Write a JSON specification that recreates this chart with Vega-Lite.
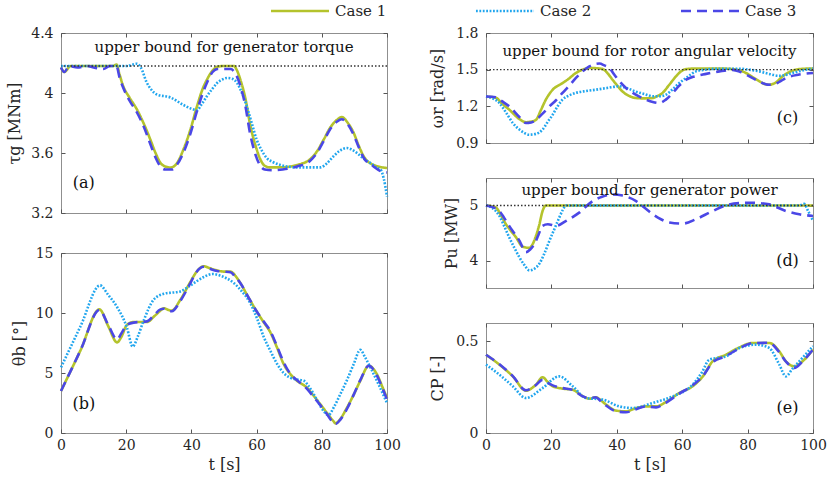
{
  "$schema": "https://vega.github.io/schema/vega-lite/v6.json",
  "background": "white",
  "padding": {"left": 6, "top": 0, "right": 0, "bottom": 5},
  "config": {
    "view": {"stroke": "#8f8f8f", "strokeWidth": 1},
    "font": "DejaVu Serif",
    "axis": {"labelFont": "DejaVu Serif", "labelFontSize": 14, "labelColor": "#262626", "titleFont": "DejaVu Serif", "titleFontSize": 16, "titleFontWeight": "normal", "titleColor": "#262626", "domain": false, "grid": false, "ticks": true, "tickSize": -4, "tickColor": "#555555", "labelPadding": 12, "titlePadding": 8, "labelOverlap": false, "labelFlush": false},
    "axisX": {"labelPadding": 9, "titlePadding": 4, "labelFlush": false},
    "legend": {"orient": "none", "legendX": 228, "legendY": -33, "direction": "horizontal", "symbolType": "M-3,0L3,0", "symbolSize": 374, "symbolStrokeWidth": 2.6, "labelFont": "DejaVu Serif", "labelFontSize": 15, "labelColor": "#262626", "labelOffset": 24, "columnPadding": 83, "title": null, "padding": 0}
  },
  "datasets": {
    "a": [
      {"c":"Case 1","t":0,"v":4.17},{"c":"Case 1","t":1,"v":4.14},{"c":"Case 1","t":3,"v":4.18},{"c":"Case 1","t":8,"v":4.18},{"c":"Case 1","t":13,"v":4.18},{"c":"Case 1","t":16,"v":4.18},{"c":"Case 1","t":17,"v":4.19},{"c":"Case 1","t":18,"v":4.12},{"c":"Case 1","t":19,"v":4.05},{"c":"Case 1","t":21,"v":3.97},{"c":"Case 1","t":23.3,"v":3.89},{"c":"Case 1","t":25.5,"v":3.79},{"c":"Case 1","t":27.4,"v":3.69},{"c":"Case 1","t":29,"v":3.6},{"c":"Case 1","t":30.5,"v":3.535},{"c":"Case 1","t":32,"v":3.51},{"c":"Case 1","t":33.6,"v":3.503},{"c":"Case 1","t":35.5,"v":3.53},{"c":"Case 1","t":37.5,"v":3.62},{"c":"Case 1","t":39.7,"v":3.756},{"c":"Case 1","t":41.7,"v":3.91},{"c":"Case 1","t":43.5,"v":4.03},{"c":"Case 1","t":44.8,"v":4.09},{"c":"Case 1","t":46.5,"v":4.15},{"c":"Case 1","t":48,"v":4.175},{"c":"Case 1","t":50,"v":4.18},{"c":"Case 1","t":53,"v":4.18},{"c":"Case 1","t":54,"v":4.15},{"c":"Case 1","t":55,"v":4.09},{"c":"Case 1","t":56.5,"v":3.97},{"c":"Case 1","t":58.1,"v":3.78},{"c":"Case 1","t":59.8,"v":3.64},{"c":"Case 1","t":61.2,"v":3.555},{"c":"Case 1","t":62.5,"v":3.515},{"c":"Case 1","t":64.2,"v":3.504},{"c":"Case 1","t":68,"v":3.505},{"c":"Case 1","t":72.4,"v":3.52},{"c":"Case 1","t":76.5,"v":3.56},{"c":"Case 1","t":78.5,"v":3.61},{"c":"Case 1","t":80.6,"v":3.69},{"c":"Case 1","t":82.6,"v":3.77},{"c":"Case 1","t":84.7,"v":3.822},{"c":"Case 1","t":86.1,"v":3.84},{"c":"Case 1","t":88,"v":3.8},{"c":"Case 1","t":89.8,"v":3.733},{"c":"Case 1","t":91.3,"v":3.65},{"c":"Case 1","t":92.8,"v":3.58},{"c":"Case 1","t":95.9,"v":3.52},{"c":"Case 1","t":100,"v":3.5},
      {"c":"Case 2","t":0,"v":4.18},{"c":"Case 2","t":5,"v":4.18},{"c":"Case 2","t":10,"v":4.18},{"c":"Case 2","t":15,"v":4.18},{"c":"Case 2","t":20,"v":4.18},{"c":"Case 2","t":23.3,"v":4.195},{"c":"Case 2","t":24.5,"v":4.17},{"c":"Case 2","t":26.3,"v":4.07},{"c":"Case 2","t":27.8,"v":4.02},{"c":"Case 2","t":29.4,"v":3.99},{"c":"Case 2","t":33.6,"v":3.97},{"c":"Case 2","t":37.6,"v":3.92},{"c":"Case 2","t":40,"v":3.895},{"c":"Case 2","t":41.7,"v":3.885},{"c":"Case 2","t":43,"v":3.92},{"c":"Case 2","t":44.8,"v":3.98},{"c":"Case 2","t":46.5,"v":4.03},{"c":"Case 2","t":47.9,"v":4.067},{"c":"Case 2","t":49.5,"v":4.09},{"c":"Case 2","t":51,"v":4.1},{"c":"Case 2","t":52.5,"v":4.095},{"c":"Case 2","t":54,"v":4.067},{"c":"Case 2","t":55.5,"v":4.0},{"c":"Case 2","t":57,"v":3.91},{"c":"Case 2","t":58.5,"v":3.8},{"c":"Case 2","t":60,"v":3.69},{"c":"Case 2","t":61.5,"v":3.62},{"c":"Case 2","t":63.1,"v":3.567},{"c":"Case 2","t":65,"v":3.54},{"c":"Case 2","t":67.3,"v":3.52},{"c":"Case 2","t":72.4,"v":3.504},{"c":"Case 2","t":79.6,"v":3.504},{"c":"Case 2","t":81.5,"v":3.53},{"c":"Case 2","t":83.6,"v":3.578},{"c":"Case 2","t":85.5,"v":3.615},{"c":"Case 2","t":87.7,"v":3.633},{"c":"Case 2","t":89,"v":3.625},{"c":"Case 2","t":90.8,"v":3.6},{"c":"Case 2","t":93,"v":3.56},{"c":"Case 2","t":94.9,"v":3.533},{"c":"Case 2","t":97,"v":3.5},{"c":"Case 2","t":98,"v":3.49},{"c":"Case 2","t":99,"v":3.43},{"c":"Case 2","t":100,"v":3.31},
      {"c":"Case 3","t":0,"v":4.17},{"c":"Case 3","t":1,"v":4.14},{"c":"Case 3","t":2.5,"v":4.18},{"c":"Case 3","t":5,"v":4.17},{"c":"Case 3","t":8,"v":4.18},{"c":"Case 3","t":10,"v":4.17},{"c":"Case 3","t":13,"v":4.16},{"c":"Case 3","t":15,"v":4.18},{"c":"Case 3","t":17,"v":4.18},{"c":"Case 3","t":18,"v":4.1},{"c":"Case 3","t":19,"v":4.04},{"c":"Case 3","t":21,"v":3.95},{"c":"Case 3","t":23.3,"v":3.87},{"c":"Case 3","t":25.5,"v":3.77},{"c":"Case 3","t":27.4,"v":3.66},{"c":"Case 3","t":29,"v":3.57},{"c":"Case 3","t":30.5,"v":3.51},{"c":"Case 3","t":32,"v":3.49},{"c":"Case 3","t":34,"v":3.49},{"c":"Case 3","t":35.5,"v":3.52},{"c":"Case 3","t":37.5,"v":3.6},{"c":"Case 3","t":39.7,"v":3.73},{"c":"Case 3","t":41.7,"v":3.88},{"c":"Case 3","t":43.5,"v":4.0},{"c":"Case 3","t":44.8,"v":4.07},{"c":"Case 3","t":46.5,"v":4.14},{"c":"Case 3","t":48,"v":4.16},{"c":"Case 3","t":50,"v":4.16},{"c":"Case 3","t":52,"v":4.16},{"c":"Case 3","t":53.5,"v":4.13},{"c":"Case 3","t":55,"v":4.05},{"c":"Case 3","t":56.5,"v":3.92},{"c":"Case 3","t":58,"v":3.73},{"c":"Case 3","t":59.5,"v":3.6},{"c":"Case 3","t":61,"v":3.52},{"c":"Case 3","t":62.5,"v":3.49},{"c":"Case 3","t":65,"v":3.485},{"c":"Case 3","t":68,"v":3.49},{"c":"Case 3","t":72.4,"v":3.51},{"c":"Case 3","t":76.5,"v":3.55},{"c":"Case 3","t":78.5,"v":3.6},{"c":"Case 3","t":80.6,"v":3.68},{"c":"Case 3","t":82.6,"v":3.76},{"c":"Case 3","t":84.7,"v":3.81},{"c":"Case 3","t":86.1,"v":3.825},{"c":"Case 3","t":88,"v":3.79},{"c":"Case 3","t":89.8,"v":3.72},{"c":"Case 3","t":91.3,"v":3.64},{"c":"Case 3","t":92.8,"v":3.57},{"c":"Case 3","t":95.9,"v":3.51},{"c":"Case 3","t":98,"v":3.48},{"c":"Case 3","t":100,"v":3.47}
    ],
    "b": [
      {"c":"Case 1","t":0,"v":3.5},{"c":"Case 1","t":6,"v":6.9},{"c":"Case 1","t":11.8,"v":10.3},{"c":"Case 1","t":14.5,"v":8.9},{"c":"Case 1","t":17.2,"v":7.55},{"c":"Case 1","t":18.5,"v":8.0},{"c":"Case 1","t":20.2,"v":9.0},{"c":"Case 1","t":22.3,"v":9.25},{"c":"Case 1","t":26.4,"v":9.25},{"c":"Case 1","t":28.5,"v":9.7},{"c":"Case 1","t":30.5,"v":10.2},{"c":"Case 1","t":31.5,"v":10.4},{"c":"Case 1","t":33,"v":10.25},{"c":"Case 1","t":34,"v":10.2},{"c":"Case 1","t":36.6,"v":11.1},{"c":"Case 1","t":39.7,"v":12.6},{"c":"Case 1","t":41.5,"v":13.4},{"c":"Case 1","t":43.8,"v":13.9},{"c":"Case 1","t":45.5,"v":13.75},{"c":"Case 1","t":47.9,"v":13.55},{"c":"Case 1","t":50,"v":13.45},{"c":"Case 1","t":52,"v":13.45},{"c":"Case 1","t":53.5,"v":13.1},{"c":"Case 1","t":55,"v":12.5},{"c":"Case 1","t":57.5,"v":11.3},{"c":"Case 1","t":60.1,"v":10.1},{"c":"Case 1","t":62,"v":9.3},{"c":"Case 1","t":64.2,"v":8.4},{"c":"Case 1","t":66.3,"v":7.1},{"c":"Case 1","t":68.3,"v":5.75},{"c":"Case 1","t":70.4,"v":4.9},{"c":"Case 1","t":72.4,"v":4.35},{"c":"Case 1","t":75.4,"v":3.78},{"c":"Case 1","t":77.5,"v":3.1},{"c":"Case 1","t":79.6,"v":2.38},{"c":"Case 1","t":81.5,"v":1.7},{"c":"Case 1","t":83.6,"v":0.98},{"c":"Case 1","t":84.2,"v":0.8},{"c":"Case 1","t":85.5,"v":1.1},{"c":"Case 1","t":87.7,"v":2.1},{"c":"Case 1","t":89.8,"v":3.2},{"c":"Case 1","t":91.8,"v":4.35},{"c":"Case 1","t":94.4,"v":5.6},{"c":"Case 1","t":96.9,"v":4.9},{"c":"Case 1","t":98.5,"v":3.9},{"c":"Case 1","t":100,"v":2.9},
      {"c":"Case 2","t":0,"v":5.47},{"c":"Case 2","t":6,"v":8.9},{"c":"Case 2","t":12,"v":12.3},{"c":"Case 2","t":14.5,"v":11.5},{"c":"Case 2","t":17.2,"v":10.5},{"c":"Case 2","t":20.2,"v":8.8},{"c":"Case 2","t":22,"v":7.2},{"c":"Case 2","t":23.5,"v":8.0},{"c":"Case 2","t":25.4,"v":9.4},{"c":"Case 2","t":28.4,"v":11.1},{"c":"Case 2","t":31.5,"v":11.6},{"c":"Case 2","t":36.6,"v":11.8},{"c":"Case 2","t":39.7,"v":12.3},{"c":"Case 2","t":43.8,"v":13.0},{"c":"Case 2","t":46.5,"v":13.25},{"c":"Case 2","t":49,"v":13.1},{"c":"Case 2","t":53,"v":12.5},{"c":"Case 2","t":55.5,"v":11.8},{"c":"Case 2","t":58.1,"v":10.8},{"c":"Case 2","t":60.2,"v":9.5},{"c":"Case 2","t":62.2,"v":8.0},{"c":"Case 2","t":64.3,"v":6.8},{"c":"Case 2","t":66.3,"v":5.75},{"c":"Case 2","t":68.3,"v":5.0},{"c":"Case 2","t":70.4,"v":4.6},{"c":"Case 2","t":72.4,"v":4.45},{"c":"Case 2","t":74.5,"v":4.35},{"c":"Case 2","t":76,"v":3.9},{"c":"Case 2","t":77.5,"v":3.25},{"c":"Case 2","t":79,"v":2.5},{"c":"Case 2","t":80.6,"v":1.82},{"c":"Case 2","t":82,"v":1.49},{"c":"Case 2","t":83.8,"v":2.2},{"c":"Case 2","t":85.7,"v":3.25},{"c":"Case 2","t":87.7,"v":4.4},{"c":"Case 2","t":89.8,"v":5.75},{"c":"Case 2","t":91.8,"v":6.93},{"c":"Case 2","t":93.3,"v":6.3},{"c":"Case 2","t":94.9,"v":5.47},{"c":"Case 2","t":97.5,"v":4.0},{"c":"Case 2","t":100,"v":2.5},
      {"c":"Case 3","t":0,"v":3.5},{"c":"Case 3","t":6,"v":6.9},{"c":"Case 3","t":11.8,"v":10.25},{"c":"Case 3","t":14.5,"v":9.0},{"c":"Case 3","t":17.2,"v":7.8},{"c":"Case 3","t":18.5,"v":8.3},{"c":"Case 3","t":20.2,"v":9.0},{"c":"Case 3","t":22.3,"v":9.2},{"c":"Case 3","t":26.4,"v":9.3},{"c":"Case 3","t":28.5,"v":9.8},{"c":"Case 3","t":30.5,"v":10.3},{"c":"Case 3","t":31.5,"v":10.35},{"c":"Case 3","t":33,"v":10.15},{"c":"Case 3","t":34,"v":10.15},{"c":"Case 3","t":36.6,"v":11.0},{"c":"Case 3","t":39.7,"v":12.5},{"c":"Case 3","t":41.5,"v":13.4},{"c":"Case 3","t":43.8,"v":13.85},{"c":"Case 3","t":45.5,"v":13.7},{"c":"Case 3","t":47.9,"v":13.5},{"c":"Case 3","t":50,"v":13.45},{"c":"Case 3","t":52,"v":13.4},{"c":"Case 3","t":53.5,"v":13.0},{"c":"Case 3","t":55,"v":12.5},{"c":"Case 3","t":57.5,"v":11.3},{"c":"Case 3","t":60.1,"v":10.1},{"c":"Case 3","t":62,"v":9.35},{"c":"Case 3","t":64.2,"v":8.5},{"c":"Case 3","t":66.3,"v":7.2},{"c":"Case 3","t":68.3,"v":5.9},{"c":"Case 3","t":70.4,"v":4.9},{"c":"Case 3","t":72.4,"v":4.4},{"c":"Case 3","t":75.4,"v":3.7},{"c":"Case 3","t":77.5,"v":3.0},{"c":"Case 3","t":79.6,"v":2.3},{"c":"Case 3","t":81.5,"v":1.6},{"c":"Case 3","t":83.6,"v":0.85},{"c":"Case 3","t":84.2,"v":0.75},{"c":"Case 3","t":85.5,"v":1.05},{"c":"Case 3","t":87.7,"v":2.0},{"c":"Case 3","t":89.8,"v":3.2},{"c":"Case 3","t":91.8,"v":4.4},{"c":"Case 3","t":94.4,"v":5.6},{"c":"Case 3","t":96.9,"v":4.8},{"c":"Case 3","t":98.5,"v":3.8},{"c":"Case 3","t":100,"v":2.8}
    ],
    "c": [
      {"c":"Case 1","t":0,"v":1.28},{"c":"Case 1","t":3,"v":1.27},{"c":"Case 1","t":5,"v":1.22},{"c":"Case 1","t":7.1,"v":1.173},{"c":"Case 1","t":10.2,"v":1.096},{"c":"Case 1","t":12.2,"v":1.07},{"c":"Case 1","t":13.8,"v":1.075},{"c":"Case 1","t":15.3,"v":1.09},{"c":"Case 1","t":16.8,"v":1.17},{"c":"Case 1","t":18.3,"v":1.255},{"c":"Case 1","t":20.4,"v":1.336},{"c":"Case 1","t":23.4,"v":1.39},{"c":"Case 1","t":25.5,"v":1.43},{"c":"Case 1","t":27.5,"v":1.473},{"c":"Case 1","t":29.5,"v":1.5},{"c":"Case 1","t":31.6,"v":1.514},{"c":"Case 1","t":33.7,"v":1.512},{"c":"Case 1","t":35.7,"v":1.505},{"c":"Case 1","t":37.2,"v":1.47},{"c":"Case 1","t":38.7,"v":1.418},{"c":"Case 1","t":40.3,"v":1.365},{"c":"Case 1","t":41.8,"v":1.32},{"c":"Case 1","t":43.8,"v":1.285},{"c":"Case 1","t":45.9,"v":1.268},{"c":"Case 1","t":48.5,"v":1.265},{"c":"Case 1","t":51,"v":1.268},{"c":"Case 1","t":52.5,"v":1.285},{"c":"Case 1","t":54,"v":1.31},{"c":"Case 1","t":56,"v":1.375},{"c":"Case 1","t":58.1,"v":1.445},{"c":"Case 1","t":59.6,"v":1.485},{"c":"Case 1","t":61.2,"v":1.505},{"c":"Case 1","t":65,"v":1.51},{"c":"Case 1","t":70,"v":1.51},{"c":"Case 1","t":75.4,"v":1.505},{"c":"Case 1","t":77.5,"v":1.495},{"c":"Case 1","t":79.5,"v":1.473},{"c":"Case 1","t":81.5,"v":1.44},{"c":"Case 1","t":83.6,"v":1.405},{"c":"Case 1","t":85,"v":1.385},{"c":"Case 1","t":86.6,"v":1.377},{"c":"Case 1","t":88.6,"v":1.395},{"c":"Case 1","t":90.7,"v":1.445},{"c":"Case 1","t":92.7,"v":1.48},{"c":"Case 1","t":94.8,"v":1.5},{"c":"Case 1","t":97.5,"v":1.508},{"c":"Case 1","t":100,"v":1.51},
      {"c":"Case 2","t":0,"v":1.28},{"c":"Case 2","t":2,"v":1.265},{"c":"Case 2","t":4.1,"v":1.227},{"c":"Case 2","t":6.1,"v":1.15},{"c":"Case 2","t":8.2,"v":1.064},{"c":"Case 2","t":10.7,"v":1.0},{"c":"Case 2","t":13.3,"v":0.968},{"c":"Case 2","t":15.3,"v":0.975},{"c":"Case 2","t":17.3,"v":1.01},{"c":"Case 2","t":18.8,"v":1.07},{"c":"Case 2","t":20.4,"v":1.132},{"c":"Case 2","t":21.9,"v":1.2},{"c":"Case 2","t":23.4,"v":1.255},{"c":"Case 2","t":25.5,"v":1.29},{"c":"Case 2","t":27.5,"v":1.31},{"c":"Case 2","t":30.5,"v":1.325},{"c":"Case 2","t":33.6,"v":1.336},{"c":"Case 2","t":37,"v":1.35},{"c":"Case 2","t":40.8,"v":1.364},{"c":"Case 2","t":43.5,"v":1.345},{"c":"Case 2","t":45.9,"v":1.32},{"c":"Case 2","t":48.5,"v":1.3},{"c":"Case 2","t":51,"v":1.282},{"c":"Case 2","t":53,"v":1.282},{"c":"Case 2","t":55,"v":1.295},{"c":"Case 2","t":57.1,"v":1.34},{"c":"Case 2","t":59.1,"v":1.39},{"c":"Case 2","t":61.6,"v":1.44},{"c":"Case 2","t":64.2,"v":1.486},{"c":"Case 2","t":67,"v":1.5},{"c":"Case 2","t":71.4,"v":1.508},{"c":"Case 2","t":77.5,"v":1.508},{"c":"Case 2","t":80.5,"v":1.5},{"c":"Case 2","t":83.6,"v":1.486},{"c":"Case 2","t":86.6,"v":1.465},{"c":"Case 2","t":89.7,"v":1.45},{"c":"Case 2","t":91.7,"v":1.457},{"c":"Case 2","t":93.8,"v":1.473},{"c":"Case 2","t":97,"v":1.495},{"c":"Case 2","t":100,"v":1.51},
      {"c":"Case 3","t":0,"v":1.28},{"c":"Case 3","t":3,"v":1.275},{"c":"Case 3","t":5,"v":1.24},{"c":"Case 3","t":7.1,"v":1.2},{"c":"Case 3","t":10.2,"v":1.113},{"c":"Case 3","t":12.2,"v":1.064},{"c":"Case 3","t":13.8,"v":1.068},{"c":"Case 3","t":15.3,"v":1.09},{"c":"Case 3","t":17.3,"v":1.14},{"c":"Case 3","t":19.4,"v":1.2},{"c":"Case 3","t":21.4,"v":1.25},{"c":"Case 3","t":23.4,"v":1.31},{"c":"Case 3","t":25.5,"v":1.37},{"c":"Case 3","t":27.5,"v":1.432},{"c":"Case 3","t":29.5,"v":1.485},{"c":"Case 3","t":31.6,"v":1.527},{"c":"Case 3","t":33.2,"v":1.545},{"c":"Case 3","t":34.7,"v":1.55},{"c":"Case 3","t":36.2,"v":1.535},{"c":"Case 3","t":37.7,"v":1.514},{"c":"Case 3","t":39.2,"v":1.46},{"c":"Case 3","t":40.8,"v":1.405},{"c":"Case 3","t":42.8,"v":1.35},{"c":"Case 3","t":44.9,"v":1.31},{"c":"Case 3","t":46.9,"v":1.28},{"c":"Case 3","t":48.9,"v":1.255},{"c":"Case 3","t":51,"v":1.235},{"c":"Case 3","t":53,"v":1.227},{"c":"Case 3","t":55,"v":1.255},{"c":"Case 3","t":57.1,"v":1.31},{"c":"Case 3","t":59.1,"v":1.37},{"c":"Case 3","t":61.2,"v":1.418},{"c":"Case 3","t":63.7,"v":1.445},{"c":"Case 3","t":66.3,"v":1.46},{"c":"Case 3","t":71.4,"v":1.486},{"c":"Case 3","t":75.4,"v":1.498},{"c":"Case 3","t":77.5,"v":1.485},{"c":"Case 3","t":79.5,"v":1.46},{"c":"Case 3","t":82,"v":1.425},{"c":"Case 3","t":84.6,"v":1.39},{"c":"Case 3","t":86,"v":1.378},{"c":"Case 3","t":87.7,"v":1.377},{"c":"Case 3","t":89.7,"v":1.4},{"c":"Case 3","t":91.7,"v":1.432},{"c":"Case 3","t":95.8,"v":1.46},{"c":"Case 3","t":100,"v":1.473}
    ],
    "d": [
      {"c":"Case 1","t":0,"v":5.0},{"c":"Case 1","t":1.5,"v":4.99},{"c":"Case 1","t":3.1,"v":4.96},{"c":"Case 1","t":4.6,"v":4.82},{"c":"Case 1","t":6.1,"v":4.66},{"c":"Case 1","t":7.6,"v":4.54},{"c":"Case 1","t":9.2,"v":4.42},{"c":"Case 1","t":11.2,"v":4.25},{"c":"Case 1","t":13.3,"v":4.23},{"c":"Case 1","t":14.3,"v":4.3},{"c":"Case 1","t":15.3,"v":4.45},{"c":"Case 1","t":16.3,"v":4.65},{"c":"Case 1","t":17.3,"v":4.9},{"c":"Case 1","t":18.3,"v":5.0},{"c":"Case 1","t":30,"v":5.0},{"c":"Case 1","t":50,"v":5.0},{"c":"Case 1","t":70,"v":5.0},{"c":"Case 1","t":90,"v":5.0},{"c":"Case 1","t":100,"v":5.0},
      {"c":"Case 2","t":0,"v":5.0},{"c":"Case 2","t":2,"v":4.95},{"c":"Case 2","t":4.1,"v":4.81},{"c":"Case 2","t":5.6,"v":4.62},{"c":"Case 2","t":7.1,"v":4.42},{"c":"Case 2","t":8.6,"v":4.24},{"c":"Case 2","t":10.2,"v":4.06},{"c":"Case 2","t":11.7,"v":3.92},{"c":"Case 2","t":13.3,"v":3.82},{"c":"Case 2","t":14.8,"v":3.85},{"c":"Case 2","t":16.3,"v":3.94},{"c":"Case 2","t":17.8,"v":4.12},{"c":"Case 2","t":19.4,"v":4.36},{"c":"Case 2","t":20.9,"v":4.57},{"c":"Case 2","t":22.4,"v":4.78},{"c":"Case 2","t":23.5,"v":4.92},{"c":"Case 2","t":24.5,"v":5.0},{"c":"Case 2","t":40,"v":5.0},{"c":"Case 2","t":60,"v":5.0},{"c":"Case 2","t":80,"v":5.0},{"c":"Case 2","t":95.8,"v":5.0},{"c":"Case 2","t":97.3,"v":5.03},{"c":"Case 2","t":98.5,"v":4.9},{"c":"Case 2","t":100,"v":4.72},
      {"c":"Case 3","t":0,"v":5.0},{"c":"Case 3","t":2,"v":4.97},{"c":"Case 3","t":4.1,"v":4.9},{"c":"Case 3","t":5.6,"v":4.77},{"c":"Case 3","t":7.1,"v":4.63},{"c":"Case 3","t":8.6,"v":4.5},{"c":"Case 3","t":10.2,"v":4.36},{"c":"Case 3","t":11.2,"v":4.24},{"c":"Case 3","t":12.2,"v":4.15},{"c":"Case 3","t":13.5,"v":4.2},{"c":"Case 3","t":14.8,"v":4.3},{"c":"Case 3","t":16,"v":4.46},{"c":"Case 3","t":17.3,"v":4.63},{"c":"Case 3","t":18.9,"v":4.66},{"c":"Case 3","t":21.4,"v":4.63},{"c":"Case 3","t":24.5,"v":4.72},{"c":"Case 3","t":28.5,"v":4.87},{"c":"Case 3","t":32.6,"v":5.08},{"c":"Case 3","t":35.5,"v":5.16},{"c":"Case 3","t":38.7,"v":5.2},{"c":"Case 3","t":41.8,"v":5.18},{"c":"Case 3","t":45.9,"v":5.08},{"c":"Case 3","t":48.5,"v":4.96},{"c":"Case 3","t":51,"v":4.84},{"c":"Case 3","t":53.5,"v":4.75},{"c":"Case 3","t":56.1,"v":4.69},{"c":"Case 3","t":60.1,"v":4.67},{"c":"Case 3","t":64.2,"v":4.75},{"c":"Case 3","t":69.3,"v":4.9},{"c":"Case 3","t":74.4,"v":5.02},{"c":"Case 3","t":78,"v":5.045},{"c":"Case 3","t":81.5,"v":5.05},{"c":"Case 3","t":86.6,"v":5.02},{"c":"Case 3","t":91.7,"v":4.9},{"c":"Case 3","t":95.8,"v":4.84},{"c":"Case 3","t":100,"v":4.81}
    ],
    "e": [
      {"c":"Case 1","t":0,"v":0.427},{"c":"Case 1","t":4.1,"v":0.373},{"c":"Case 1","t":8.2,"v":0.309},{"c":"Case 1","t":12.2,"v":0.231},{"c":"Case 1","t":15.3,"v":0.264},{"c":"Case 1","t":17.3,"v":0.304},{"c":"Case 1","t":18.8,"v":0.28},{"c":"Case 1","t":20.4,"v":0.255},{"c":"Case 1","t":23.4,"v":0.242},{"c":"Case 1","t":26.5,"v":0.236},{"c":"Case 1","t":29.6,"v":0.2},{"c":"Case 1","t":31.6,"v":0.187},{"c":"Case 1","t":33.6,"v":0.195},{"c":"Case 1","t":35,"v":0.18},{"c":"Case 1","t":36.7,"v":0.155},{"c":"Case 1","t":39.8,"v":0.122},{"c":"Case 1","t":42.8,"v":0.118},{"c":"Case 1","t":45.9,"v":0.136},{"c":"Case 1","t":48.9,"v":0.145},{"c":"Case 1","t":52,"v":0.145},{"c":"Case 1","t":55,"v":0.169},{"c":"Case 1","t":59.1,"v":0.218},{"c":"Case 1","t":63.2,"v":0.255},{"c":"Case 1","t":66.3,"v":0.309},{"c":"Case 1","t":69.3,"v":0.391},{"c":"Case 1","t":73.4,"v":0.427},{"c":"Case 1","t":77.5,"v":0.467},{"c":"Case 1","t":81.5,"v":0.491},{"c":"Case 1","t":86.6,"v":0.491},{"c":"Case 1","t":89.7,"v":0.445},{"c":"Case 1","t":91.7,"v":0.391},{"c":"Case 1","t":94.3,"v":0.364},{"c":"Case 1","t":96.8,"v":0.391},{"c":"Case 1","t":100,"v":0.455},
      {"c":"Case 2","t":0,"v":0.373},{"c":"Case 2","t":4.1,"v":0.318},{"c":"Case 2","t":8.2,"v":0.255},{"c":"Case 2","t":12.2,"v":0.191},{"c":"Case 2","t":17.3,"v":0.245},{"c":"Case 2","t":22.4,"v":0.309},{"c":"Case 2","t":26.5,"v":0.255},{"c":"Case 2","t":30.6,"v":0.191},{"c":"Case 2","t":35.7,"v":0.182},{"c":"Case 2","t":40.8,"v":0.145},{"c":"Case 2","t":44.9,"v":0.136},{"c":"Case 2","t":51,"v":0.164},{"c":"Case 2","t":57.1,"v":0.2},{"c":"Case 2","t":63.2,"v":0.264},{"c":"Case 2","t":66,"v":0.33},{"c":"Case 2","t":68.3,"v":0.4},{"c":"Case 2","t":73.4,"v":0.418},{"c":"Case 2","t":77.5,"v":0.464},{"c":"Case 2","t":82.6,"v":0.482},{"c":"Case 2","t":86.6,"v":0.464},{"c":"Case 2","t":89.7,"v":0.373},{"c":"Case 2","t":91.7,"v":0.309},{"c":"Case 2","t":93.7,"v":0.35},{"c":"Case 2","t":95.8,"v":0.391},{"c":"Case 2","t":100,"v":0.473},
      {"c":"Case 3","t":0,"v":0.427},{"c":"Case 3","t":4.1,"v":0.375},{"c":"Case 3","t":8.2,"v":0.31},{"c":"Case 3","t":12.2,"v":0.233},{"c":"Case 3","t":15.3,"v":0.262},{"c":"Case 3","t":17.3,"v":0.29},{"c":"Case 3","t":18.8,"v":0.275},{"c":"Case 3","t":20.4,"v":0.26},{"c":"Case 3","t":23.4,"v":0.245},{"c":"Case 3","t":26.5,"v":0.235},{"c":"Case 3","t":29.6,"v":0.2},{"c":"Case 3","t":31.6,"v":0.19},{"c":"Case 3","t":33.6,"v":0.195},{"c":"Case 3","t":35,"v":0.175},{"c":"Case 3","t":36.7,"v":0.15},{"c":"Case 3","t":39.8,"v":0.118},{"c":"Case 3","t":42.8,"v":0.113},{"c":"Case 3","t":45.9,"v":0.13},{"c":"Case 3","t":48.9,"v":0.145},{"c":"Case 3","t":52,"v":0.14},{"c":"Case 3","t":55,"v":0.165},{"c":"Case 3","t":59.1,"v":0.215},{"c":"Case 3","t":63.2,"v":0.26},{"c":"Case 3","t":66.3,"v":0.31},{"c":"Case 3","t":69.3,"v":0.385},{"c":"Case 3","t":73.4,"v":0.42},{"c":"Case 3","t":77.5,"v":0.462},{"c":"Case 3","t":81.5,"v":0.49},{"c":"Case 3","t":86.6,"v":0.492},{"c":"Case 3","t":89.7,"v":0.44},{"c":"Case 3","t":91.7,"v":0.39},{"c":"Case 3","t":94.3,"v":0.355},{"c":"Case 3","t":96.8,"v":0.39},{"c":"Case 3","t":100,"v":0.455}
    ]
  },
  "spacing": 28,
  "hconcat": [
    {
      "bounds": "flush",
      "spacing": 40,
      "vconcat": [
        {
          "width": 326, "height": 180,
          "resolve": {"axis": {"x": "independent", "y": "independent"}},
          "layer": [
            {"data": {"name": "a"}, "mark": {"type": "line", "interpolate": "monotone", "strokeWidth": 2.6},
             "encoding": {
               "x": {"field": "t", "type": "quantitative", "scale": {"domain": [0, 100], "nice": false}, "axis": {"values": [0,20,40,60,80,100], "labels": false, "title": null}},
               "y": {"field": "v", "type": "quantitative", "scale": {"domain": [3.2, 4.4], "nice": false, "zero": false}, "axis": {"values": [3.2,3.6,4,4.4], "format": "~g", "title": "τg [MNm]"}},
               "color": {"field": "c", "type": "nominal", "scale": {"domain": ["Case 1","Case 2","Case 3"], "range": ["#b4c32c","#21a6ee","#4b47e6"]}},
               "strokeDash": {"field": "c", "type": "nominal", "scale": {"domain": ["Case 1","Case 2","Case 3"], "range": [[1,0],[1.8,1.6],[10,6]]}}
             }},
            {"data": {"values": [{}]}, "mark": {"type": "rule", "color": "#333333", "strokeWidth": 1.3, "strokeDash": [1.5,2]}, "encoding": {"y": {"datum": 4.18, "axis": null}}},
            {"data": {"values": [{}]}, "mark": {"type": "text", "fontSize": 15, "color": "#111111", "align": "center", "baseline": "middle"}, "encoding": {"x": {"datum": 50, "axis": null}, "y": {"datum": 4.31, "axis": null}, "text": {"value": "upper bound for generator torque"}}},
            {"data": {"values": [{}]}, "mark": {"type": "text", "fontSize": 16, "color": "#111111", "align": "center", "baseline": "middle"}, "encoding": {"x": {"datum": 7, "axis": {"orient": "top", "values": [0,20,40,60,80,100], "labels": false, "title": null}}, "y": {"datum": 3.4, "axis": {"orient": "right", "values": [3.2,3.6,4,4.4], "labels": false, "title": null}}, "text": {"value": "(a)"}}}
          ]
        },
        {
          "width": 326, "height": 180,
          "resolve": {"axis": {"x": "independent", "y": "independent"}},
          "layer": [
            {"data": {"name": "b"}, "mark": {"type": "line", "interpolate": "monotone", "strokeWidth": 2.6},
             "encoding": {
               "x": {"field": "t", "type": "quantitative", "scale": {"domain": [0, 100], "nice": false}, "axis": {"values": [0,20,40,60,80,100], "title": "t [s]"}},
               "y": {"field": "v", "type": "quantitative", "scale": {"domain": [0, 15], "nice": false}, "axis": {"values": [0,5,10,15], "format": "~g", "title": "θb [°]"}},
               "color": {"field": "c", "type": "nominal"},
               "strokeDash": {"field": "c", "type": "nominal"}
             }},
            {"data": {"values": [{}]}, "mark": {"type": "text", "fontSize": 16, "color": "#111111", "align": "center", "baseline": "middle"}, "encoding": {"x": {"datum": 7, "axis": {"orient": "top", "values": [0,20,40,60,80,100], "labels": false, "title": null}}, "y": {"datum": 2.4, "axis": {"orient": "right", "values": [0,5,10,15], "labels": false, "title": null}}, "text": {"value": "(b)"}}}
          ]
        }
      ]
    },
    {
      "bounds": "flush",
      "spacing": 35,
      "vconcat": [
        {
          "width": 327, "height": 110,
          "resolve": {"axis": {"x": "independent", "y": "independent"}},
          "layer": [
            {"data": {"name": "c"}, "mark": {"type": "line", "interpolate": "monotone", "strokeWidth": 2.6},
             "encoding": {
               "x": {"field": "t", "type": "quantitative", "scale": {"domain": [0, 100], "nice": false}, "axis": {"values": [0,20,40,60,80,100], "labels": false, "title": null}},
               "y": {"field": "v", "type": "quantitative", "scale": {"domain": [0.9, 1.8], "nice": false, "zero": false}, "axis": {"values": [0.9,1.2,1.5,1.8], "format": "~g", "title": "ωr [rad/s]", "titlePadding": 10}},
               "color": {"field": "c", "type": "nominal"},
               "strokeDash": {"field": "c", "type": "nominal"}
             }},
            {"data": {"values": [{}]}, "mark": {"type": "rule", "color": "#333333", "strokeWidth": 1.3, "strokeDash": [1.5,2]}, "encoding": {"y": {"datum": 1.5, "axis": null}}},
            {"data": {"values": [{}]}, "mark": {"type": "text", "fontSize": 15, "color": "#111111", "align": "center", "baseline": "middle"}, "encoding": {"x": {"datum": 50, "axis": null}, "y": {"datum": 1.65, "axis": null}, "text": {"value": "upper bound for rotor angular velocity"}}},
            {"data": {"values": [{}]}, "mark": {"type": "text", "fontSize": 16, "color": "#111111", "align": "center", "baseline": "middle"}, "encoding": {"x": {"datum": 92.2, "axis": {"orient": "top", "values": [0,20,40,60,80,100], "labels": false, "title": null}}, "y": {"datum": 1.107, "axis": {"orient": "right", "values": [0.9,1.2,1.5,1.8], "labels": false, "title": null}}, "text": {"value": "(c)"}}}
          ]
        },
        {
          "width": 327, "height": 110,
          "resolve": {"axis": {"x": "independent", "y": "independent"}},
          "layer": [
            {"data": {"name": "d"}, "mark": {"type": "line", "interpolate": "monotone", "strokeWidth": 2.6},
             "encoding": {
               "x": {"field": "t", "type": "quantitative", "scale": {"domain": [0, 100], "nice": false}, "axis": {"values": [0,20,40,60,80,100], "labels": false, "title": null}},
               "y": {"field": "v", "type": "quantitative", "scale": {"domain": [3.5, 5.5], "nice": false, "zero": false}, "axis": {"values": [4,5], "format": "~g", "title": "Pu [MW]", "titlePadding": 10}},
               "color": {"field": "c", "type": "nominal"},
               "strokeDash": {"field": "c", "type": "nominal"}
             }},
            {"data": {"values": [{}]}, "mark": {"type": "rule", "color": "#333333", "strokeWidth": 1.3, "strokeDash": [1.5,2]}, "encoding": {"y": {"datum": 5, "axis": null}}},
            {"data": {"values": [{}]}, "mark": {"type": "text", "fontSize": 15, "color": "#111111", "align": "center", "baseline": "middle"}, "encoding": {"x": {"datum": 50, "axis": null}, "y": {"datum": 5.29, "axis": null}, "text": {"value": "upper bound for generator power"}}},
            {"data": {"values": [{}]}, "mark": {"type": "text", "fontSize": 16, "color": "#111111", "align": "center", "baseline": "middle"}, "encoding": {"x": {"datum": 92.2, "axis": {"orient": "top", "values": [0,20,40,60,80,100], "labels": false, "title": null}}, "y": {"datum": 4.0, "axis": {"orient": "right", "values": [4,5], "labels": false, "title": null}}, "text": {"value": "(d)"}}}
          ]
        },
        {
          "width": 327, "height": 110,
          "resolve": {"axis": {"x": "independent", "y": "independent"}},
          "layer": [
            {"data": {"name": "e"}, "mark": {"type": "line", "interpolate": "monotone", "strokeWidth": 2.6},
             "encoding": {
               "x": {"field": "t", "type": "quantitative", "scale": {"domain": [0, 100], "nice": false}, "axis": {"values": [0,20,40,60,80,100], "title": "t [s]"}},
               "y": {"field": "v", "type": "quantitative", "scale": {"domain": [0, 0.6], "nice": false}, "axis": {"values": [0,0.5], "format": "~g", "title": "CP [-]", "titlePadding": 10}},
               "color": {"field": "c", "type": "nominal"},
               "strokeDash": {"field": "c", "type": "nominal"}
             }},
            {"data": {"values": [{}]}, "mark": {"type": "text", "fontSize": 16, "color": "#111111", "align": "center", "baseline": "middle"}, "encoding": {"x": {"datum": 92.2, "axis": {"orient": "top", "values": [0,20,40,60,80,100], "labels": false, "title": null}}, "y": {"datum": 0.135, "axis": {"orient": "right", "values": [0,0.5], "labels": false, "title": null}}, "text": {"value": "(e)"}}}
          ]
        }
      ]
    }
  ]
}
